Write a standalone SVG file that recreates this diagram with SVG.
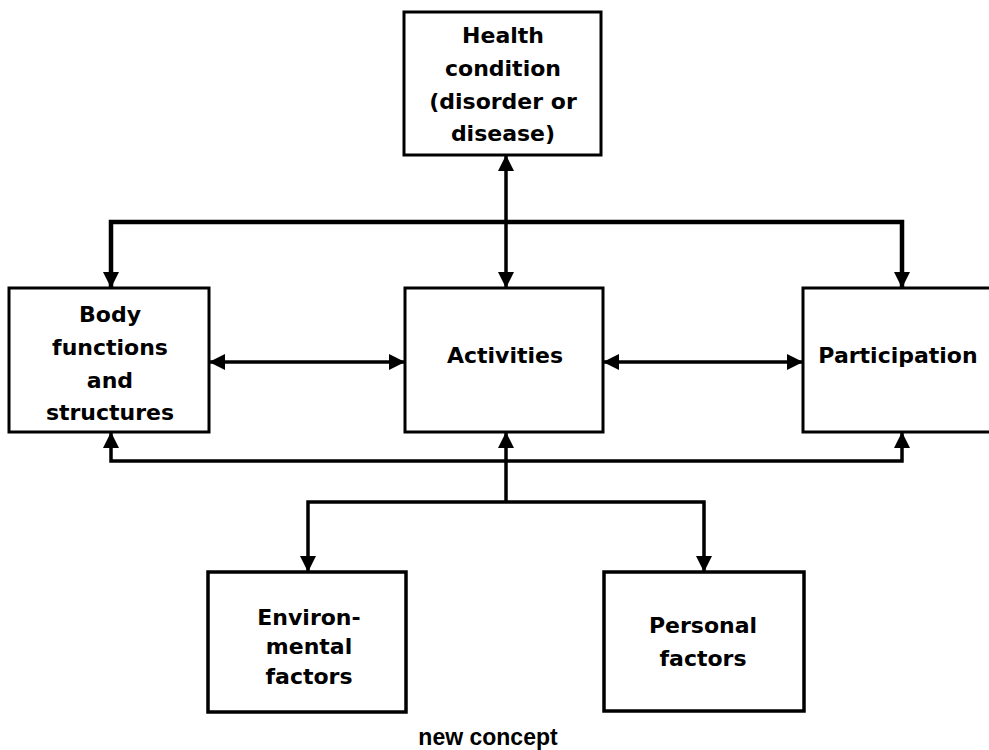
<svg xmlns="http://www.w3.org/2000/svg" width="989" height="750" viewBox="0 0 989 750">
<defs>
<style>
.box{fill:#fff;stroke:#000;stroke-width:3}
.lbl{font-family:"DejaVu Sans",sans-serif;font-weight:bold;font-size:22px;fill:#000;text-anchor:middle}
.ln{fill:none;stroke:#000;stroke-width:3.5}
.cap{font-family:"Liberation Sans",Arial,sans-serif;font-weight:bold;font-size:23px;fill:#000;text-anchor:middle}
</style>
<marker id="ah" markerUnits="userSpaceOnUse" markerWidth="17" markerHeight="17" viewBox="0 0 17 17" refX="16" refY="8" orient="auto-start-reverse">
<path d="M0,0 L16,8 L0,16 z" fill="#000"/>
</marker>
</defs>
<rect width="989" height="750" fill="#fff"/>
<g id="connectors">
<path class="ln" d="M111,288 V222 H902 V288" style="stroke-width:4.5" marker-start="url(#ah)" marker-end="url(#ah)"/>
<path class="ln" d="M506,155 V288" marker-start="url(#ah)" marker-end="url(#ah)"/>
<path class="ln" d="M209,362 H405" marker-start="url(#ah)" marker-end="url(#ah)"/>
<path class="ln" d="M603,362 H803" marker-start="url(#ah)" marker-end="url(#ah)"/>
<path class="ln" d="M111,432 V461 H902 V432" marker-start="url(#ah)" marker-end="url(#ah)"/>
<path class="ln" d="M506,502 V432" marker-end="url(#ah)"/>
<path class="ln" d="M308,572 V502 H704 V572" marker-start="url(#ah)" marker-end="url(#ah)"/>
</g>
<g id="health">
<rect class="box" x="404" y="12" width="197" height="143"/>
<text class="lbl" x="503" y="43">Health</text>
<text class="lbl" x="503" y="76">condition</text>
<text class="lbl" x="503" y="109">(disorder or</text>
<text class="lbl" x="503" y="141">disease)</text>
</g>
<g id="body">
<rect class="box" x="9" y="288" width="200" height="144"/>
<text class="lbl" x="110" y="322">Body</text>
<text class="lbl" x="110" y="355">functions</text>
<text class="lbl" x="110" y="388">and</text>
<text class="lbl" x="110" y="420">structures</text>
</g>
<g id="activities">
<rect class="box" x="405" y="288" width="198" height="144"/>
<text class="lbl" x="505" y="363">Activities</text>
</g>
<g id="participation">
<rect class="box" x="803" y="288" width="200" height="144"/>
<text class="lbl" x="898" y="363">Participation</text>
</g>
<g id="environmental">
<rect class="box" x="208" y="572" width="198" height="140" style="stroke-width:3.5"/>
<text class="lbl" x="309" y="625">Environ-</text>
<text class="lbl" x="309" y="654">mental</text>
<text class="lbl" x="309" y="684">factors</text>
</g>
<g id="personal">
<rect class="box" x="604" y="572" width="200" height="139" style="stroke-width:3.5"/>
<text class="lbl" x="703" y="633">Personal</text>
<text class="lbl" x="703" y="666">factors</text>
</g>
<text class="cap" x="488" y="745">new concept</text>
</svg>
